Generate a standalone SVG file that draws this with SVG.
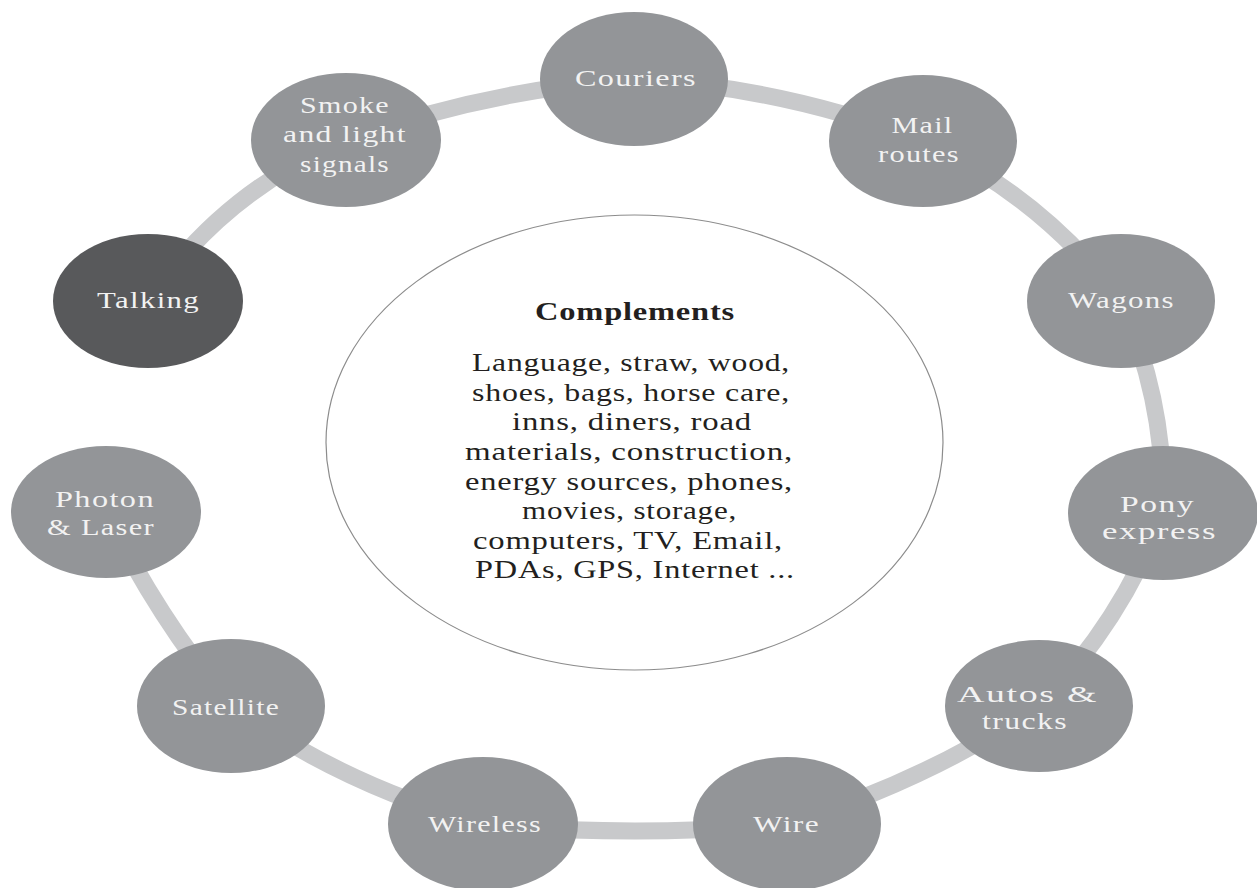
<svg xmlns="http://www.w3.org/2000/svg" width="1257" height="888" viewBox="0 0 1257 888">
<style>
.node{fill:#939598}
.dark{fill:#58595b}
.lbl{font-family:"Liberation Serif","Times New Roman",serif;font-size:23px;fill:#f2f2f2;text-anchor:middle;letter-spacing:1px}
.band{fill:none;stroke:#c8c9cb;stroke-width:17}
.ctext{font-family:"Liberation Serif","Times New Roman",serif;font-size:24.5px;fill:#231f20;text-anchor:middle;letter-spacing:0.6px}
.ctitle{font-weight:bold}
</style>
<rect width="1257" height="888" fill="#ffffff"/>
<g id="connectors">
<path class="band" d="M148 301 Q223 191 346 140"/>
<path class="band" d="M346 140 Q486 90 634 79"/>
<path class="band" d="M634 79 Q784 87 923 141"/>
<path class="band" d="M923 141 Q1042 197 1121 301"/>
<path class="band" d="M1121 301 Q1166 402 1163 513"/>
<path class="band" d="M1163 513 Q1121 623 1039 706"/>
<path class="band" d="M1039 706 Q922 783 787 824"/>
<path class="band" d="M787 824 Q635 838 483 824"/>
<path class="band" d="M483 824 Q347 787 231 706"/>
<path class="band" d="M231 706 Q157 617 106 512"/>
</g>
<g id="center">
<ellipse cx="634.5" cy="442.5" rx="308.5" ry="227.5" fill="#ffffff" stroke="#8c8c8c" stroke-width="1.2"/>
<text class="ctext ctitle" x="635" y="320" textLength="200" lengthAdjust="spacingAndGlyphs">Complements</text>
<text class="ctext" x="631" y="371" textLength="318" lengthAdjust="spacingAndGlyphs">Language, straw, wood,</text>
<text class="ctext" x="631" y="400.5" textLength="318" lengthAdjust="spacingAndGlyphs">shoes, bags, horse care,</text>
<text class="ctext" x="632" y="430" textLength="240" lengthAdjust="spacingAndGlyphs">inns, diners, road</text>
<text class="ctext" x="629" y="460" textLength="328" lengthAdjust="spacingAndGlyphs">materials, construction,</text>
<text class="ctext" x="629" y="489.5" textLength="328" lengthAdjust="spacingAndGlyphs">energy sources, phones,</text>
<text class="ctext" x="629.5" y="519" textLength="215" lengthAdjust="spacingAndGlyphs">movies, storage,</text>
<text class="ctext" x="628" y="548.5" textLength="310" lengthAdjust="spacingAndGlyphs">computers, TV, Email,</text>
<text class="ctext" x="635" y="578" textLength="320" lengthAdjust="spacingAndGlyphs">PDAs, GPS, Internet ...</text>
</g>
<g id="talking">
<ellipse class="dark" cx="148" cy="301" rx="95" ry="67"/>
<text class="lbl" x="148.5" y="308" textLength="103" lengthAdjust="spacingAndGlyphs">Talking</text>
</g>
<g id="smoke">
<ellipse class="node" cx="346" cy="140" rx="95" ry="67"/>
<text class="lbl" x="345" y="113" textLength="90" lengthAdjust="spacingAndGlyphs">Smoke</text>
<text class="lbl" x="345" y="142" textLength="124" lengthAdjust="spacingAndGlyphs">and light</text>
<text class="lbl" x="345" y="172" textLength="90" lengthAdjust="spacingAndGlyphs">signals</text>
</g>
<g id="couriers">
<ellipse class="node" cx="634" cy="79" rx="94" ry="67"/>
<text class="lbl" x="636" y="86" textLength="122" lengthAdjust="spacingAndGlyphs">Couriers</text>
</g>
<g id="mail">
<ellipse class="node" cx="923" cy="141" rx="94" ry="66"/>
<text class="lbl" x="922.5" y="133" textLength="62" lengthAdjust="spacingAndGlyphs">Mail</text>
<text class="lbl" x="919" y="162" textLength="82" lengthAdjust="spacingAndGlyphs">routes</text>
</g>
<g id="wagons">
<ellipse class="node" cx="1121" cy="301" rx="94" ry="67"/>
<text class="lbl" x="1121.5" y="308" textLength="107" lengthAdjust="spacingAndGlyphs">Wagons</text>
</g>
<g id="pony">
<ellipse class="node" cx="1163" cy="513" rx="95" ry="67"/>
<text class="lbl" x="1157.5" y="512" textLength="75" lengthAdjust="spacingAndGlyphs">Pony</text>
<text class="lbl" x="1159.5" y="539" textLength="115" lengthAdjust="spacingAndGlyphs">express</text>
</g>
<g id="autos">
<ellipse class="node" cx="1039" cy="706" rx="94" ry="66"/>
<text class="lbl" x="1027.5" y="702" textLength="141" lengthAdjust="spacingAndGlyphs">Autos &amp;</text>
<text class="lbl" x="1025" y="729" textLength="86" lengthAdjust="spacingAndGlyphs">trucks</text>
</g>
<g id="wire">
<ellipse class="node" cx="787" cy="824" rx="94" ry="67"/>
<text class="lbl" x="786.5" y="832" textLength="67" lengthAdjust="spacingAndGlyphs">Wire</text>
</g>
<g id="wireless">
<ellipse class="node" cx="483" cy="824" rx="95" ry="67"/>
<text class="lbl" x="485" y="832" textLength="114" lengthAdjust="spacingAndGlyphs">Wireless</text>
</g>
<g id="satellite">
<ellipse class="node" cx="231" cy="706" rx="94" ry="67"/>
<text class="lbl" x="226" y="715" textLength="108" lengthAdjust="spacingAndGlyphs">Satellite</text>
</g>
<g id="photon">
<ellipse class="node" cx="106" cy="512" rx="95" ry="66"/>
<text class="lbl" x="105" y="507" textLength="100" lengthAdjust="spacingAndGlyphs">Photon</text>
<text class="lbl" x="101" y="535" textLength="108" lengthAdjust="spacingAndGlyphs">&amp; Laser</text>
</g>
</svg>
